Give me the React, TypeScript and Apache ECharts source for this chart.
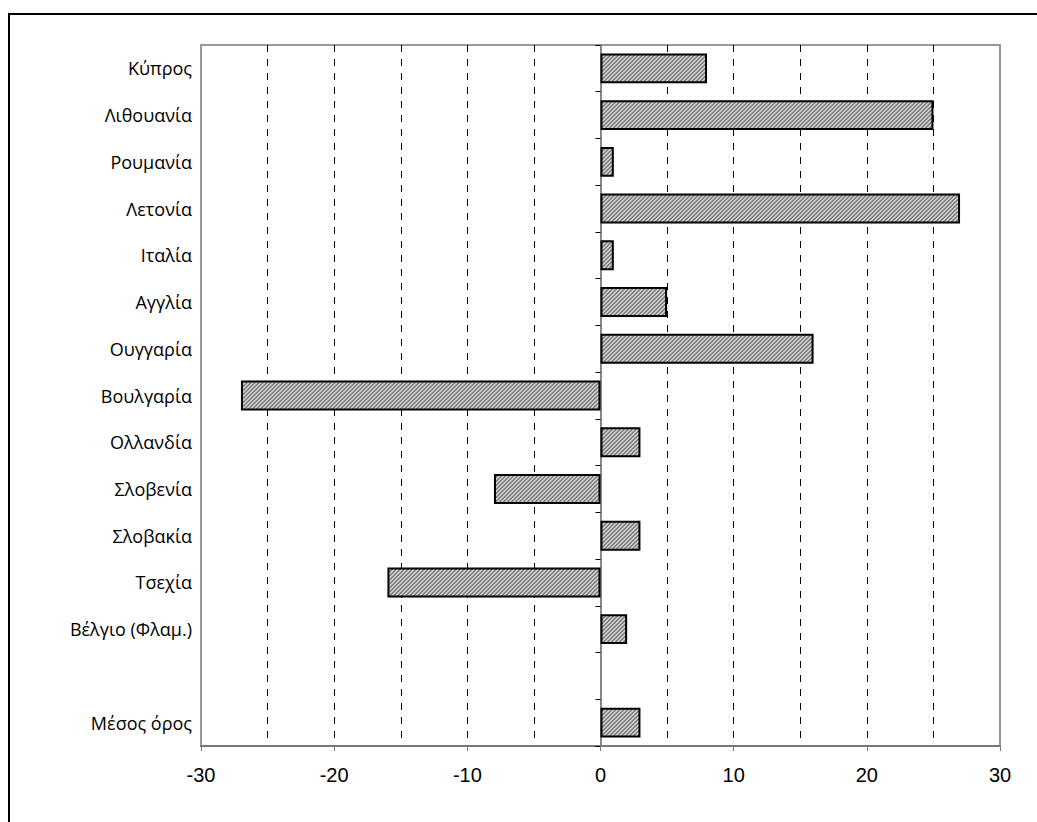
import React, { useEffect, useRef } from "react";
import * as echarts from "echarts";

const categories = [
  "Κύπρος",
  "Λιθουανία",
  "Ρουμανία",
  "Λετονία",
  "Ιταλία",
  "Αγγλία",
  "Ουγγαρία",
  "Βουλγαρία",
  "Ολλανδία",
  "Σλοβενία",
  "Σλοβακία",
  "Τσεχία",
  "Βέλγιο (Φλαμ.)",
  "",
  "Μέσος όρος",
];
const values: (number | null)[] = [8, 25, 1, 27, 1, 5, 16, -27, 3, -8, 3, -16, 2, null, 3];
const xTicks = [-30, -20, -10, 0, 10, 20, 30];

function makeHatch(): string {
  const c = document.createElement("canvas");
  c.width = 4;
  c.height = 4;
  const ctx = c.getContext("2d")!;
  for (let x = 0; x < 4; x++) {
    for (let y = 0; y < 4; y++) {
      const k = (x + y) % 4;
      ctx.fillStyle = k === 0 || k === 1 ? "#808080" : "#cccccc";
      ctx.fillRect(x, y, 1, 1);
    }
  }
  return c.toDataURL();
}

export default function App() {
  const ref = useRef<HTMLDivElement>(null);
  useEffect(() => {
    if (!ref.current) return;
    const chart = echarts.init(ref.current, null, { renderer: "svg" });
    const font = "'Liberation Sans', Arial, sans-serif";
    const catFont = "'Open Sans', 'Noto Sans', sans-serif";
    const hatch = makeHatch();
    const splitColors = xTicks.map((t) =>
      t === xTicks[0] || t === xTicks[xTicks.length - 1] || t === 0 ? "rgba(0,0,0,0)" : "#000"
    );
    chart.setOption({
      animation: false,
      backgroundColor: "#fff",
      grid: {
        left: 201,
        right: 37,
        top: 45,
        bottom: 76,
        show: true,
        borderColor: "#999",
        borderWidth: 2,
        backgroundColor: "transparent",
      },
      xAxis: {
        type: "value",
        min: -30,
        max: 30,
        interval: 10,
        axisLine: { show: true, onZero: false, lineStyle: { color: "#777", width: 2 } },
        axisTick: { show: true, length: 5, lineStyle: { color: "#777", width: 1 } },
        axisLabel: { fontFamily: font, fontSize: 20, color: "#000", margin: 19 },
        splitLine: {
          show: true,
          lineStyle: { color: splitColors, type: [7, 7], width: 1 },
        },
        minorTick: { show: false, splitNumber: 2 },
        minorSplitLine: {
          show: true,
          lineStyle: { color: "#000", type: [7, 7], width: 1 },
        },
      },
      yAxis: [
        {
          type: "category",
          data: categories,
          inverse: true,
          position: "left",
          axisLine: { show: false, onZero: false },
          axisTick: { show: false },
          axisLabel: { fontFamily: catFont, fontSize: 18, color: "#000", margin: 9 },
          splitLine: { show: false },
        },
        {
          type: "category",
          data: categories,
          inverse: true,
          position: "left",
          axisLine: { show: true, onZero: true, lineStyle: { color: "#888", width: 2 } },
          axisTick: { show: true, length: 5, lineStyle: { color: "#000", width: 1 } },
          axisLabel: { show: false },
          splitLine: { show: false },
        },
      ],
      series: [
        {
          type: "bar",
          yAxisIndex: 0,
          data: values.map((v) => (v === null ? "-" : v)),
          barWidth: "64%",
          itemStyle: {
            color: { image: hatch, repeat: "repeat" },
            borderColor: "#000",
            borderWidth: 2,
          },
          z: 3,
        },
      ],
      graphic: [
        {
          type: "line",
          shape: { x1: 8, y1: 14, x2: 1037, y2: 14 },
          style: { stroke: "#000", lineWidth: 2 },
        },
        {
          type: "line",
          shape: { x1: 9, y1: 13, x2: 9, y2: 822 },
          style: { stroke: "#000", lineWidth: 2 },
        },
      ],
    });
    return () => chart.dispose();
  }, []);
  return (
    <div
      ref={ref}
      style={{ position: "absolute", left: 0, top: 0, width: 1037, height: 822 }}
    />
  );
}
